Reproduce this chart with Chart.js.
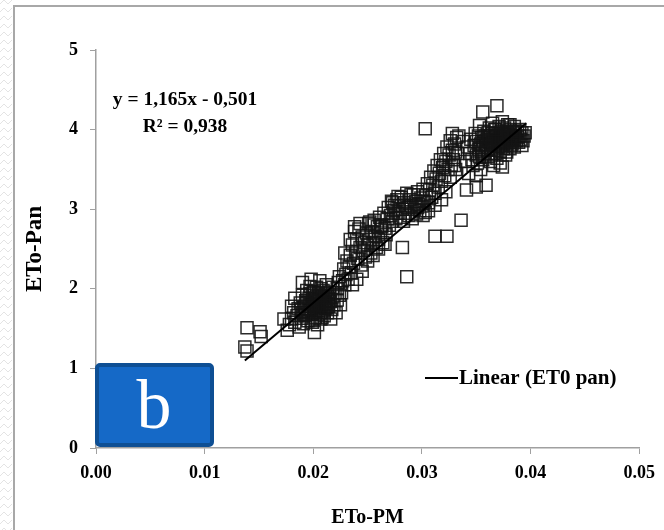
<!DOCTYPE html>
<html>
<head>
<meta charset="utf-8">
<script src="https://cdn.jsdelivr.net/npm/chart.js@4"></script>
<style>
    html, body { margin: 0; padding: 0; background: #fff; }
    canvas { display: block; }
</style>
</head>
<body>
<canvas id="myChart" width="664" height="530" style="width:664px;height:530px"></canvas>
<script>
// Data

const etoPM = [
    // low outliers
    0.0139, 0.0151, 0.0152, 0.0137, 0.0139,
    // lower cluster
    0.0178, 0.0180, 0.0182, 0.0183, 0.0185, 0.0186, 0.0187, 0.0188, 0.0189, 0.0190,
    0.0190, 0.0191, 0.0192, 0.0193, 0.0193, 0.0194, 0.0195, 0.0195, 0.0196, 0.0197,
    0.0197, 0.0198, 0.0198, 0.0199, 0.0199, 0.0200, 0.0200, 0.0201, 0.0201, 0.0202,
    0.0202, 0.0203, 0.0203, 0.0204, 0.0204, 0.0205, 0.0205, 0.0206, 0.0206, 0.0207,
    0.0207, 0.0208, 0.0208, 0.0209, 0.0209, 0.0210, 0.0210, 0.0211, 0.0211, 0.0212,
    0.0212, 0.0213, 0.0214, 0.0214, 0.0215, 0.0216, 0.0216, 0.0217, 0.0218, 0.0218,
    0.0219, 0.0220, 0.0221, 0.0222, 0.0223, 0.0224, 0.0225, 0.0201, 0.0176, 0.0173,
    0.0180, 0.0183, 0.0190, 0.0198, 0.0206,
    0.0196, 0.0199, 0.0201, 0.0203, 0.0205, 0.0207, 0.0209, 0.0211, 0.0213, 0.0192,
    0.0194, 0.0200, 0.0204, 0.0208, 0.0212, 0.0215, 0.0189, 0.0197, 0.0202, 0.0206,
    // middle band
    0.0222, 0.0224, 0.0226, 0.0227, 0.0228, 0.0229, 0.0230, 0.0231, 0.0232, 0.0233,
    0.0234, 0.0235, 0.0236, 0.0237, 0.0238, 0.0239, 0.0240, 0.0241, 0.0242, 0.0243,
    0.0244, 0.0245, 0.0246, 0.0247, 0.0248, 0.0249, 0.0250, 0.0251, 0.0252, 0.0253,
    0.0254, 0.0255, 0.0256, 0.0257, 0.0258, 0.0259, 0.0260, 0.0261, 0.0262, 0.0263,
    0.0264, 0.0265, 0.0266, 0.0267, 0.0268, 0.0269, 0.0270, 0.0271, 0.0272, 0.0273,
    0.0274, 0.0275, 0.0276, 0.0277, 0.0278, 0.0279, 0.0280, 0.0281, 0.0282, 0.0283,
    0.0284, 0.0285, 0.0286, 0.0287, 0.0288, 0.0289, 0.0290, 0.0291, 0.0292, 0.0293,
    0.0294, 0.0295, 0.0296, 0.0297, 0.0298, 0.0299, 0.0300, 0.0301, 0.0302, 0.0303,
    0.0304, 0.0305, 0.0306, 0.0307, 0.0308, 0.0309, 0.0310, 0.0311, 0.0312, 0.0313,
    0.0314, 0.0315, 0.0316, 0.0317, 0.0318, 0.0319, 0.0320, 0.0321, 0.0322, 0.0323,
    0.0324, 0.0325, 0.0326, 0.0327, 0.0328, 0.0329, 0.0330, 0.0331, 0.0332, 0.0333,
    0.0229, 0.0234, 0.0238, 0.0243, 0.0252, 0.0256, 0.0263, 0.0240, 0.0236, 0.0245,
    0.0250, 0.0255, 0.0260, 0.0266, 0.0273, 0.0278, 0.0290, 0.0296, 0.0301, 0.0306,
    0.0312, 0.0318, 0.0322, 0.0326, 0.0330, 0.0334, 0.0338, 0.0331, 0.0328, 0.0320,
    // upper cluster
    0.0340, 0.0342, 0.0343, 0.0344, 0.0345, 0.0346, 0.0347, 0.0348, 0.0349, 0.0350,
    0.0350, 0.0351, 0.0352, 0.0352, 0.0353, 0.0353, 0.0354, 0.0354, 0.0355, 0.0355,
    0.0356, 0.0356, 0.0357, 0.0357, 0.0358, 0.0358, 0.0359, 0.0359, 0.0360, 0.0360,
    0.0361, 0.0361, 0.0362, 0.0362, 0.0363, 0.0363, 0.0364, 0.0364, 0.0365, 0.0365,
    0.0366, 0.0366, 0.0367, 0.0367, 0.0368, 0.0368, 0.0369, 0.0369, 0.0370, 0.0370,
    0.0371, 0.0371, 0.0372, 0.0372, 0.0373, 0.0373, 0.0374, 0.0374, 0.0375, 0.0375,
    0.0376, 0.0376, 0.0377, 0.0377, 0.0378, 0.0378, 0.0379, 0.0379, 0.0380, 0.0380,
    0.0381, 0.0381, 0.0382, 0.0383, 0.0383, 0.0384, 0.0385, 0.0385, 0.0386, 0.0387,
    0.0388, 0.0389, 0.0390, 0.0391, 0.0392, 0.0393, 0.0394, 0.0356, 0.0372, 0.0366,
    0.0350, 0.0341, 0.0350, 0.0374,
    0.0365, 0.0368, 0.0371, 0.0374, 0.0377, 0.0380, 0.0383, 0.0386, 0.0370, 0.0373,
    0.0376, 0.0379, 0.0382, 0.0385, 0.0388, 0.0362, 0.0359, 0.0367, 0.0381, 0.0390,
    0.0392, 0.0395, 0.0363, 0.0369, 0.0378,
    // scattered outliers
    0.0303, 0.0286, 0.0312, 0.0323, 0.0336, 0.0282
];

const etoPan = [
    1.51, 1.46, 1.40, 1.27, 1.22,
    1.55, 1.62, 1.70, 1.58, 1.66, 1.75, 1.52, 1.82, 1.63, 1.70,
    1.92, 1.56, 1.78, 1.85, 1.66, 1.98, 1.72, 1.60, 1.88, 1.80,
    2.03, 1.68, 1.75, 1.92, 1.58, 1.84, 1.70, 1.96, 1.78, 1.64,
    1.88, 2.02, 1.73, 1.82, 1.55, 1.94, 1.68, 1.86, 1.76, 2.00,
    1.62, 1.80, 1.90, 1.72, 1.98, 1.84, 1.66, 1.76, 1.92, 1.82,
    2.05, 1.70, 1.88, 1.78, 1.96, 1.84, 1.62, 1.74, 1.90, 2.02,
    1.80, 1.95, 1.70, 1.86, 2.08, 1.92, 1.80, 1.45, 1.48, 1.62,
    1.78, 1.88, 2.08, 2.12, 2.10,
    1.74, 1.86, 1.62, 1.90, 1.78, 1.70, 1.88, 1.82, 1.94, 1.68,
    1.82, 1.96, 1.72, 1.64, 1.76, 1.86, 1.74, 1.94, 1.80, 1.92,
    2.00, 2.15, 1.95, 2.10, 2.25, 2.05, 2.18, 2.35, 2.12, 2.28,
    2.42, 2.20, 2.55, 2.32, 2.72, 2.45, 2.62, 2.38, 2.75, 2.52,
    2.30, 2.65, 2.48, 2.58, 2.40, 2.70, 2.55, 2.82, 2.62, 2.45,
    2.72, 2.58, 2.86, 2.66, 2.52, 2.78, 2.62, 2.90, 2.70, 2.80,
    2.58, 2.95, 2.76, 2.68, 2.88, 3.02, 2.80, 2.92, 3.10, 2.85,
    2.98, 3.05, 2.88, 3.12, 2.95, 3.04, 2.90, 3.15, 3.00, 2.85,
    3.08, 2.95, 3.20, 3.02, 2.92, 3.12, 3.05, 2.88, 3.18, 3.00,
    3.10, 2.94, 3.22, 3.06, 2.98, 3.14, 3.04, 3.25, 3.10, 2.96,
    3.18, 3.32, 3.08, 3.24, 3.40, 3.15, 3.30, 3.48, 3.20, 3.38,
    3.55, 3.28, 3.45, 3.62, 3.35, 3.52, 3.70, 3.42, 3.60, 3.78,
    3.50, 3.68, 3.86, 3.55, 3.74, 3.62, 3.82, 3.50, 3.90, 3.70,
    2.45, 2.62, 2.78, 2.82, 2.84, 2.80, 2.78, 2.12, 2.05, 2.22,
    2.35, 2.42, 2.50, 2.56, 3.08, 3.16, 3.18, 3.02, 2.92, 2.98,
    3.05, 3.12, 3.22, 3.40, 3.55, 3.92, 3.85, 3.72, 3.95, 3.55,
    3.60, 3.78, 3.45, 3.70, 3.88, 3.62, 3.55, 3.80, 3.95, 3.68,
    3.85, 3.58, 3.75, 3.92, 3.66, 4.05, 3.82, 3.50, 3.72, 3.90,
    3.78, 3.62, 3.98, 3.85, 3.70, 3.92, 3.80, 3.30, 3.88, 3.74,
    3.96, 3.66, 3.84, 4.02, 3.76, 3.90, 3.82, 3.68, 3.95, 4.08,
    3.86, 3.74, 3.92, 3.80, 4.00, 3.70, 3.88, 4.30, 3.78, 3.95,
    3.84, 4.04, 3.90, 3.72, 3.98, 3.82, 3.88, 4.10, 3.76, 3.94,
    3.85, 4.02, 3.92, 3.68, 3.80, 3.98, 3.88, 4.06, 3.84, 3.94,
    3.76, 4.00, 3.90, 3.82, 3.96, 3.88, 4.04, 3.78, 3.92, 3.86,
    3.98, 3.84, 3.92, 3.88, 3.96, 3.86, 3.92, 4.22, 3.58, 3.55,
    3.42, 3.24, 3.28, 3.53,
    3.86, 3.92, 3.88, 3.96, 3.84, 3.90, 3.86, 3.98, 3.82, 3.78,
    3.92, 3.96, 3.80, 3.92, 3.90, 3.92, 3.86, 4.00, 4.06, 4.00,
    3.80, 3.96, 3.60, 3.64, 3.72,
    4.01, 2.15, 2.66, 2.66, 2.86, 2.52
];

// trendline end points
const trendPM = [0.0137, 0.0396];
const trendPan = [1.10, 4.08];

const xTicks = [0, 0.01, 0.02, 0.03, 0.04, 0.05];
const yTicks = [0, 1, 2, 3, 4, 5];

const equationLines = ["y = 1,165x - 0,501", "R\u00B2 = 0,938"];
const legendText = "Linear (ET0 pan)";
const panelLabel = "b";

// Setup

let points = [];
for (let i = 0; i < etoPM.length; i++) {
    points.push({ x: etoPM[i], y: etoPan[i] });
}

let trend = [];
for (let i = 0; i < trendPM.length; i++) {
    trend.push({ x: trendPM[i], y: trendPan[i] });
}

const data = {
    datasets: [
        {
            label: "ET0 pan",
            data: points,
            pointStyle: "rect",
            pointRadius: 8.5,
            backgroundColor: "rgba(0, 0, 0, 0)",
            borderColor: "rgba(20, 20, 20, 0.9)",
            borderWidth: 1.5,
            order: 2
        },
        {
            type: "line",
            label: legendText,
            data: trend,
            borderColor: "#000",
            borderWidth: 2,
            pointRadius: 0,
            fill: false,
            order: 1
        }
    ]
};

const serif = "'Liberation Serif', 'Times New Roman', serif";

// Plugin for frame, equation, legend and the panel box

const decorations = {
    id: "decorations",
    beforeDraw(chart) {
        const ctx = chart.ctx;
        ctx.save();
        ctx.fillStyle = "#fff";
        ctx.fillRect(0, 0, chart.width, chart.height);
        // light zigzag margin
        ctx.strokeStyle = "#e4e4e4";
        ctx.lineWidth = 1;
        for (let y = 0; y < chart.height; y += 8) {
            ctx.beginPath();
            ctx.moveTo(0, y + 4);
            for (let x = 0; x <= 12; x += 4) {
                ctx.lineTo(x, y + ((x / 4) % 2 === 0 ? 4 : 0));
            }
            ctx.stroke();
        }
        // slide frame
        ctx.strokeStyle = "#a8a8a8";
        ctx.lineWidth = 2;
        ctx.beginPath();
        ctx.moveTo(14, chart.height);
        ctx.lineTo(14, 6);
        ctx.lineTo(chart.width, 6);
        ctx.stroke();
        ctx.restore();
    },
    afterDraw(chart) {
        const ctx = chart.ctx;
        ctx.save();

        // equation
        ctx.fillStyle = "#000";
        ctx.font = "bold 19.5px " + serif;
        ctx.textAlign = "center";
        ctx.textBaseline = "alphabetic";
        ctx.fillText(equationLines[0], 185, 105);
        ctx.fillText(equationLines[1], 185, 132);

        // legend
        ctx.strokeStyle = "#000";
        ctx.lineWidth = 2;
        ctx.beginPath();
        ctx.moveTo(425, 378);
        ctx.lineTo(458, 378);
        ctx.stroke();
        ctx.font = "bold 21px " + serif;
        ctx.textAlign = "left";
        ctx.textBaseline = "middle";
        ctx.fillText(legendText, 459, 379);

        // panel box
        const bx = 97, by = 365, bw = 115, bh = 80;
        ctx.fillStyle = "#1569c7";
        ctx.strokeStyle = "#0e4f94";
        ctx.lineWidth = 4;
        ctx.beginPath();
        ctx.roundRect(bx, by, bw, bh, 3);
        ctx.fill();
        ctx.stroke();
        ctx.fillStyle = "#fff";
        ctx.font = "70px " + serif;
        ctx.textAlign = "center";
        ctx.textBaseline = "alphabetic";
        ctx.fillText(panelLabel, 154, 428);

        ctx.restore();
    }
};

// Config

const tickFont = { family: serif, size: 18, weight: "bold" };

const config = {
    type: "scatter",
    data,
    options: {
        responsive: false,
        animation: false,
        layout: {
            padding: { top: 50, right: 24, bottom: 0, left: 0 }
        },
        plugins: {
            legend: { display: false },
            tooltip: { enabled: false }
        },
        scales: {
            x: {
                type: "linear",
                min: 0,
                max: 0.05,
                afterBuildTicks: (scale) => {
                    scale.ticks = xTicks.map(v => ({ value: v }));
                },
                afterFit: (scale) => {
                    scale.height = 82;
                },
                ticks: {
                    color: "#000",
                    font: tickFont,
                    padding: 9,
                    maxRotation: 0,
                    callback: (value) => value.toFixed(2)
                },
                grid: {
                    drawOnChartArea: false,
                    drawTicks: true,
                    tickLength: 6,
                    color: "#a0a0a0"
                },
                border: { display: true, color: "#a0a0a0", width: 1.5 },
                title: {
                    display: true,
                    text: "ETo-PM",
                    color: "#000",
                    font: { family: serif, size: 20, weight: "bold" },
                    padding: { top: 0, bottom: 0 }
                }
            },
            y: {
                min: 0,
                max: 5,
                afterBuildTicks: (scale) => {
                    scale.ticks = yTicks.map(v => ({ value: v }));
                },
                afterFit: (scale) => {
                    scale.width = 96;
                },
                ticks: {
                    color: "#000",
                    font: tickFont,
                    padding: 12
                },
                grid: {
                    drawOnChartArea: false,
                    drawTicks: true,
                    tickLength: 6,
                    color: "#a0a0a0"
                },
                border: { display: true, color: "#a0a0a0", width: 1.5 },
                title: {
                    display: true,
                    text: "ETo-Pan",
                    color: "#000",
                    font: { family: serif, size: 23, weight: "bold" },
                    padding: { top: 21, bottom: 0 }
                }
            }
        }
    },
    plugins: [decorations]
};

// Render

const myChart = new Chart(document.getElementById("myChart"), config);
</script>
</body>
</html>
